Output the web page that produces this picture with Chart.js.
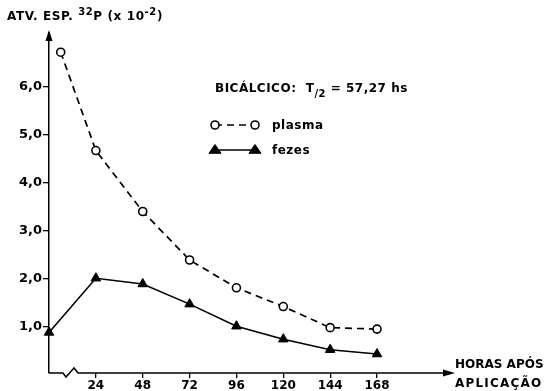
<!DOCTYPE html>
<html><head><meta charset="utf-8">
<script src="https://cdn.jsdelivr.net/npm/chart.js@4/dist/chart.umd.min.js"></script>
<style>html,body{margin:0;padding:0;background:#fff}#wrap{width:547px;height:391px;position:relative}</style>
</head><body><div id="wrap"><canvas id="c" width="547" height="391"></canvas></div>
<script>
const plasmaHours = [6, 24, 48, 72, 96, 120, 144, 168];
const plasmaValues = [6.72, 4.67, 3.40, 2.39, 1.81, 1.42, 0.98, 0.95];
const fezesHours = [0, 24, 48, 72, 96, 120, 144, 168];
const fezesValues = [0.88, 2.01, 1.89, 1.47, 1.01, 0.74, 0.52, 0.43];
const xTickValues = [24, 48, 72, 96, 120, 144, 168];
const yTickValues = [1, 2, 3, 4, 5, 6];
const seriesNames = ['plasma', 'fezes'];
const yTitleParts = [['ATV. ESP. ', 0], ['32', 1], ['P (x 10', 0], ['-2', 1], [')', 0]];
const xTitleLines = ['HORAS APÓS', 'APLICAÇÃO'];
const noteParts = [['BICÁLCICO:  T', 0], ['/2', 2], [' = 57,27 hs', 0]];

const FONT = '"DejaVu Sans", "Liberation Sans", sans-serif';

function pts(xs, ys) { return xs.map((x, i) => ({ x: x, y: ys[i] })); }

function drawParts(ctx, parts, x, y, size) {
  for (const [t, kind] of parts) {
    const s = kind ? Math.round(size * 0.8) : size;
    ctx.font = 'bold ' + s + 'px ' + FONT;
    const dy = kind === 1 ? -size * 0.45 : kind === 2 ? size * 0.4 : 0;
    ctx.fillText(t, x, y + dy);
    x += ctx.measureText(t).width;
  }
}

const decor = {
  id: 'decor',
  afterDraw(chart) {
    const ctx = chart.ctx;
    const { left, right, top, bottom } = chart.chartArea;
    ctx.save();
    ctx.strokeStyle = '#000';
    ctx.fillStyle = '#000';
    ctx.lineWidth = 1.5;
    ctx.setLineDash([]);
    // x axis with break
    ctx.beginPath();
    ctx.moveTo(left, bottom);
    ctx.lineTo(left + 14, bottom);
    ctx.lineTo(left + 17, bottom + 4);
    ctx.lineTo(left + 25, bottom - 5);
    ctx.lineTo(left + 29, bottom);
    ctx.lineTo(right, bottom);
    ctx.stroke();
    // x arrow
    ctx.beginPath();
    ctx.moveTo(right + 3, bottom);
    ctx.lineTo(right - 9, bottom - 3.5);
    ctx.lineTo(right - 9, bottom + 3.5);
    ctx.closePath();
    ctx.fill();
    // y arrow
    ctx.beginPath();
    ctx.moveTo(left, top - 3);
    ctx.lineTo(left - 3.5, top + 8);
    ctx.lineTo(left + 3.5, top + 8);
    ctx.closePath();
    ctx.fill();

    // texts
    ctx.textAlign = 'left';
    ctx.textBaseline = 'alphabetic';
    if ('letterSpacing' in ctx) ctx.letterSpacing = '0.6px';
    drawParts(ctx, yTitleParts, 7, 20, 12);
    if ('letterSpacing' in ctx) ctx.letterSpacing = '0.5px';
    drawParts(ctx, noteParts, 215, 92, 12);
    ctx.font = 'bold 12px ' + FONT;
    if ('letterSpacing' in ctx) ctx.letterSpacing = '0px';
    ctx.fillText(xTitleLines[0], 455, 368);
    if ('letterSpacing' in ctx) ctx.letterSpacing = '1.2px';
    ctx.fillText(xTitleLines[1], 455, 387);
    if ('letterSpacing' in ctx) ctx.letterSpacing = '0.5px';

    // legend
    const ds = chart.data.datasets;
    const rows = [125, 150];
    ds.forEach((d, i) => {
      const y = rows[i];
      ctx.lineWidth = d.borderWidth;
      ctx.strokeStyle = d.borderColor;
      ctx.setLineDash(d.borderDash || []);
      ctx.beginPath();
      ctx.moveTo(215, y);
      ctx.lineTo(255, y);
      ctx.stroke();
      ctx.setLineDash([]);
      for (const px of [215, 255]) {
        ctx.fillStyle = d.pointBackgroundColor;
        ctx.strokeStyle = d.pointBorderColor;
        ctx.lineWidth = d.pointBorderWidth;
        ctx.beginPath();
        if (d.pointStyle === 'circle') {
          ctx.arc(px, y, d.pointRadius, 0, Math.PI * 2);
        } else {
          const r = d.pointRadius;
          ctx.moveTo(px, y - r);
          ctx.lineTo(px + r * 1.1, y + r * 0.6);
          ctx.lineTo(px - r * 1.1, y + r * 0.6);
          ctx.closePath();
        }
        ctx.fill();
        ctx.stroke();
      }
      ctx.fillStyle = '#000';
      ctx.font = 'bold 12px ' + FONT;
      ctx.fillText(d.label, 272, y + 4);
    });
    ctx.restore();
  }
};

new Chart(document.getElementById('c'), {
  type: 'line',
  data: {
    datasets: [
      {
        label: seriesNames[0],
        data: pts(plasmaHours, plasmaValues),
        borderColor: '#000', borderWidth: 1.7, borderDash: [7, 5],
        pointStyle: 'circle', pointRadius: 4, pointBorderWidth: 1.6,
        pointBackgroundColor: '#fff', pointBorderColor: '#000',
        tension: 0, clip: false
      },
      {
        label: seriesNames[1],
        data: pts(fezesHours, fezesValues),
        borderColor: '#000', borderWidth: 1.6,
        pointStyle: 'triangle', pointRadius: 5.5, pointBorderWidth: 1,
        pointBackgroundColor: '#000', pointBorderColor: '#000',
        tension: 0, clip: false
      }
    ]
  },
  options: {
    responsive: false,
    devicePixelRatio: 1,
    animation: false,
    layout: { padding: { top: 33, right: 95, left: 0, bottom: 0 } },
    plugins: { legend: { display: false }, tooltip: { enabled: false } },
    scales: {
      x: {
        type: 'linear', min: 0, max: 206.4,
        afterBuildTicks: s => { s.ticks = xTickValues.map(v => ({ value: v })); },
        afterFit: s => { s.height = 18; },
        border: { display: false },
        grid: { drawOnChartArea: false, drawTicks: true, tickLength: 5, color: '#000', lineWidth: 1.3 },
        ticks: { color: '#000', padding: 1, maxRotation: 0, autoSkip: false,
          font: { family: FONT, size: 12, weight: 'bold' } }
      },
      y: {
        type: 'linear', min: 0.035, max: 7.12,
        afterBuildTicks: s => { s.ticks = yTickValues.map(v => ({ value: v })); },
        afterFit: s => { s.width = 49; },
        border: { display: true, color: '#000', width: 1.5 },
        grid: { drawOnChartArea: false, drawTicks: true, tickLength: 6, color: '#000', lineWidth: 1.3 },
        ticks: { color: '#000', padding: 1, autoSkip: false,
          callback: v => v.toFixed(1).replace('.', ','),
          font: { family: FONT, size: 13, weight: 'bold' } }
      }
    }
  },
  plugins: [decor]
});
</script>
</body></html>
